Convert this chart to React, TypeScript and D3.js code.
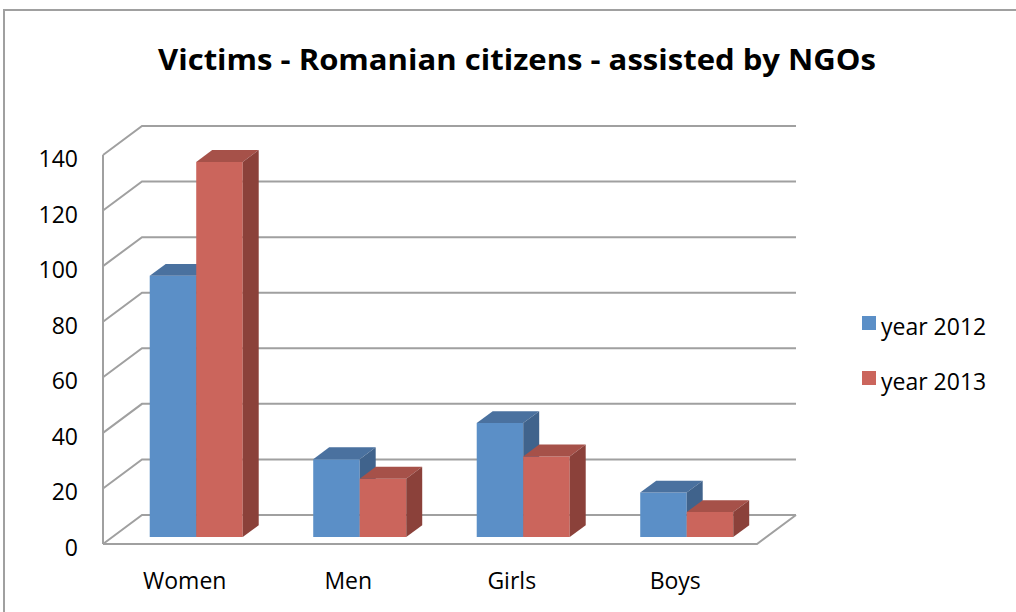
import React from 'react';
import * as d3 from 'd3';

const categories = ['Women', 'Men', 'Girls', 'Boys'];
const seriesNames = ['year 2012', 'year 2013'];
const values2012 = [94, 28, 41, 16];
const values2013 = [135, 21, 29, 9];
const yTicks = [0, 20, 40, 60, 80, 100, 120, 140];

const colors = [
  { front: '#5B8FC7', top: '#4A719F', side: '#40638C' },
  { front: '#CB655C', top: '#A65149', side: '#8B413A' },
];

const W = 1016;
const H = 612;
const ox = 103; // front-left floor corner
const oy = 544;
const plotW = 654;
const plotH = 389;
const depthX = 39;
const depthY = 29;
const barD0 = 0.24;
const barD1 = 0.65;
const grid = '#A0A0A0';
const font = '"Open Sans", "Noto Sans", sans-serif';

const App: React.FC = () => {
  const x = d3.scaleBand<string>().domain(categories).range([0, plotW]);
  const xs = d3.scaleBand<string>()
    .domain(seriesNames)
    .range([0, x.bandwidth()])
    .paddingOuter(0.758)
    .align(0.53);
  const y = d3.scaleLinear().domain([0, 140]).range([0, plotH]);

  // oblique projection: horizontal offset, height, depth (0 front .. 1 back)
  const P = (px: number, h: number, d: number): [number, number] => [
    ox + px + d * depthX,
    oy - h - d * depthY,
  ];
  const pts = (arr: [number, number][]) => arr.map(p => p.join(',')).join(' ');

  const data = [values2012, values2013];

  return (
    <svg width={W} height={H} style={{ position: 'absolute', left: 0, top: 0, background: '#fff' }}>
      <rect x={4} y={10} width={1030} height={640} fill="#fff" stroke={grid} strokeWidth={2} />

      <text x={517} y={70} textAnchor="middle" fontFamily={font} fontWeight="bold" fontSize={29}
        textLength={718} lengthAdjust="spacingAndGlyphs" fill="#000">
        Victims - Romanian citizens - assisted by NGOs
      </text>

      {/* walls and gridlines */}
      <g stroke={grid} strokeWidth={2} fill="none">
        {yTicks.map(t => {
          const a = P(0, y(t), 0);
          const b = P(0, y(t), 1);
          const c = P(plotW, y(t), 1);
          return <polyline key={t} points={pts([a, b, c])} />;
        })}
        <line x1={ox} y1={oy} x2={ox} y2={oy - plotH} />
        <polyline points={pts([P(0, 0, 0), P(plotW, 0, 0), P(plotW, 0, 1)])} />
      </g>

      {yTicks.map(t => (
        <text key={t} x={78} y={oy - y(t) + 12} textAnchor="end" fontFamily={font} fontSize={23} fill="#000">
          {t}
        </text>
      ))}

      {/* bars */}
      {categories.map((c, ci) => (
        <g key={c}>
          {seriesNames.map((s, si) => {
            const v = data[si][ci];
            const x0 = (x(c) || 0) + (xs(s) || 0);
            const x1 = x0 + xs.bandwidth();
            const h = y(v);
            const col = colors[si];
            return (
              <g key={s}>
                <polygon fill={col.front} points={pts([P(x0, 0, barD0), P(x1, 0, barD0), P(x1, h, barD0), P(x0, h, barD0)])} />
                <polygon fill={col.top} points={pts([P(x0, h, barD0), P(x1, h, barD0), P(x1, h, barD1), P(x0, h, barD1)])} />
                <polygon fill={col.side} points={pts([P(x1, 0, barD0), P(x1, 0, barD1), P(x1, h, barD1), P(x1, h, barD0)])} />
              </g>
            );
          })}
        </g>
      ))}

      {categories.map(c => (
        <text key={c} x={ox + (x(c) || 0) + x.bandwidth() / 2} y={589} textAnchor="middle"
          fontFamily={font} fontSize={23} fill="#000">
          {c}
        </text>
      ))}

      {/* legend */}
      {seriesNames.map((s, i) => (
        <g key={s} transform={`translate(862,${316 + i * 55})`}>
          <rect width={14} height={14} fill={colors[i].front} />
          <text x={19} y={19} fontFamily={font} fontSize={23} fill="#000">{s}</text>
        </g>
      ))}
    </svg>
  );
};

export default App;
